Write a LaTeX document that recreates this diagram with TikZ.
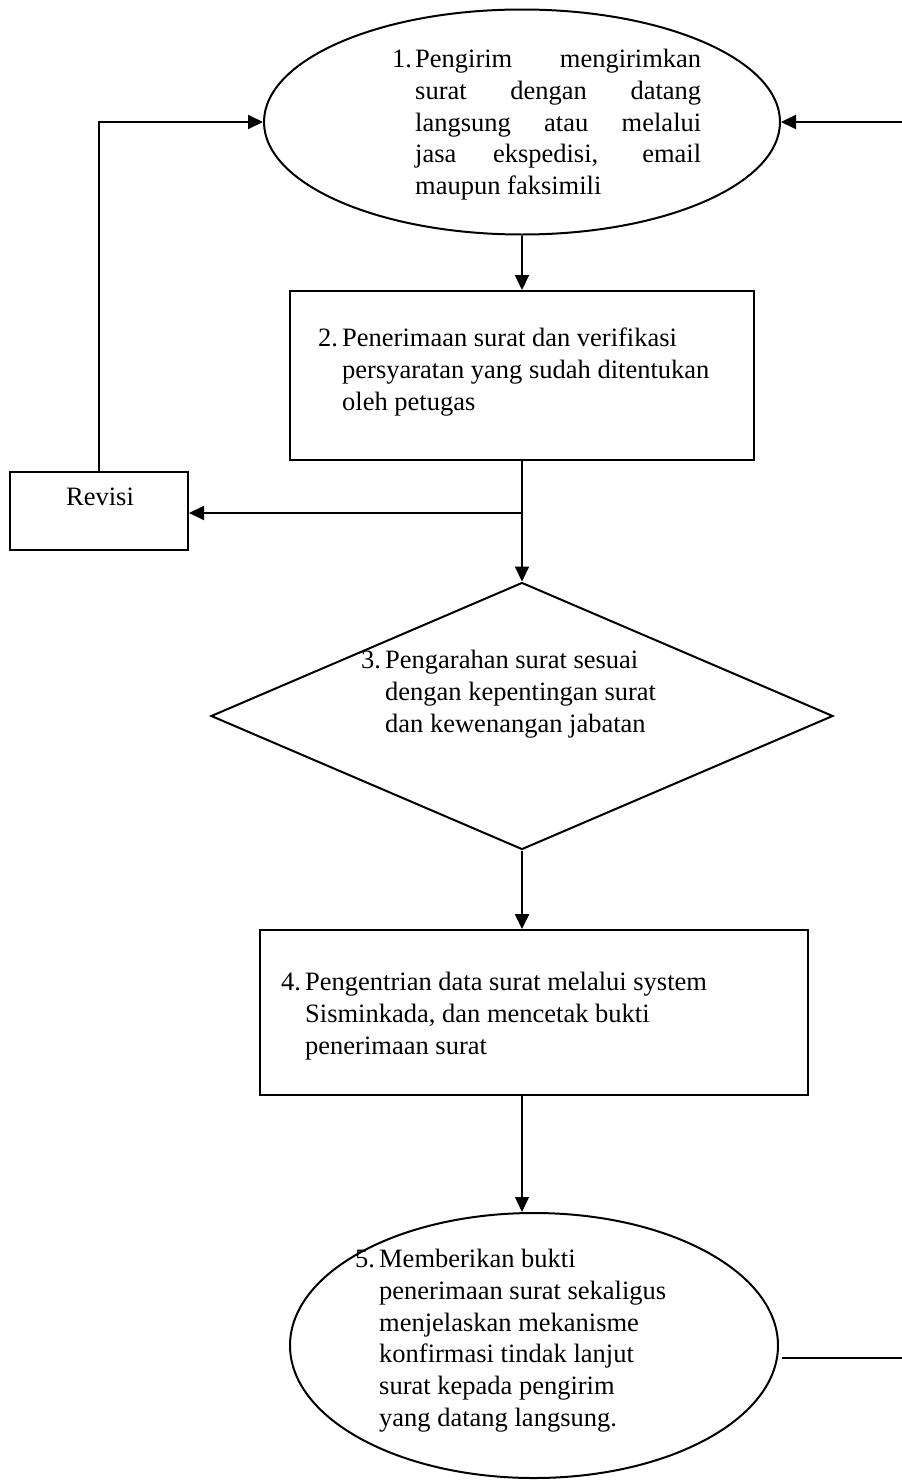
\documentclass[tikz,border=0pt]{standalone}
\usepackage{fontspec}
\setmainfont{Liberation Serif}
\usetikzlibrary{shapes.geometric,arrows.meta}
\begin{document}
\begin{tikzpicture}[x=1pt,y=-1pt,
  shp/.style={draw,line width=2pt,inner sep=0pt},
  ell/.style={shp,ellipse},
  box/.style={shp,rectangle},
  dia/.style={shp,diamond},
  txt/.style={anchor=north west,inner sep=0pt,font=\fontsize{26.5}{31.8}\selectfont},
  con/.style={line width=2pt},
  arr/.style={con,-{Triangle[length=15pt,width=14pt]}}]
\useasboundingbox[fill=white] (0,0) rectangle (902,1483);
% shapes
\node[ell,minimum width=516pt,minimum height=225pt] (e1) at (522,122) {};
\node[box,minimum width=464pt,minimum height=169pt] (b2) at (522,375.5) {};
\node[box,minimum width=178pt,minimum height=78pt] (rev) at (99,511) {};
\node[dia,minimum width=622pt,minimum height=267pt] (d3) at (522,716) {};
\node[box,minimum width=548pt,minimum height=165pt] (b4) at (534,1012.5) {};
\node[ell,minimum width=488pt,minimum height=265pt] (e5) at (534,1345.5) {};
% texts
\node[txt] (t1) at (392,45) {\begin{tabular}{@{}l@{}l@{}}
\makebox[23pt][l]{1.} & \makebox[286pt][s]{Pengirim\hfill mengirimkan}\\
 & \makebox[286pt][s]{surat dengan datang}\\
 & \makebox[286pt][s]{langsung atau melalui}\\
 & \makebox[286pt][s]{jasa ekspedisi, email}\\
 & maupun faksimili
\end{tabular}};
\node[txt] (t2) at (318,324) {\begin{tabular}{@{}l@{}l@{}}
\makebox[24pt][l]{2.} & Penerimaan surat dan verifikasi\\
 & persyaratan yang sudah ditentukan\\
 & oleh petugas
\end{tabular}};
\node[font=\fontsize{26.5}{31.8}\selectfont,inner sep=0pt] (trev) at (100,497) {Revisi};
\node[txt] (t3) at (361,646) {\begin{tabular}{@{}l@{}l@{}}
\makebox[24pt][l]{3.} & Pengarahan surat sesuai\\
 & dengan kepentingan surat\\
 & dan kewenangan jabatan
\end{tabular}};
\node[txt] (t4) at (281,968) {\begin{tabular}{@{}l@{}l@{}}
\makebox[24pt][l]{4.} & Pengentrian data surat melalui system\\
 & Sisminkada, dan mencetak bukti\\
 & penerimaan surat
\end{tabular}};
\node[txt] (t5) at (355,1245) {\begin{tabular}{@{}l@{}l@{}}
\makebox[24pt][l]{5.} & Memberikan bukti\\
 & penerimaan surat sekaligus\\
 & menjelaskan mekanisme\\
 & konfirmasi tindak lanjut\\
 & surat kepada pengirim\\
 & yang datang langsung.
\end{tabular}};
% connectors
\coordinate (j) at (522,513);
\coordinate (r1) at (902,122);
\coordinate (r5) at (902,1358);
\draw[arr] (e1.south) -- (b2.north);
\draw[arr] (b2.south) -- (d3.north);
\draw[arr] (j) -- (j -| rev.east);
\draw[arr] (rev.north) |- (e1.west);
\draw[arr] (r1) -- (e1.east);
\draw[arr,line width=2.5pt] (d3.south) -- (d3.south |- b4.north);
\draw[arr,line width=1.2pt] (b4.south -| d3.south) -- (d3.south |- e5.north);
\draw[con] ([xshift=3pt]e5.east |- r5) -- (r5);
\end{tikzpicture}
\end{document}
